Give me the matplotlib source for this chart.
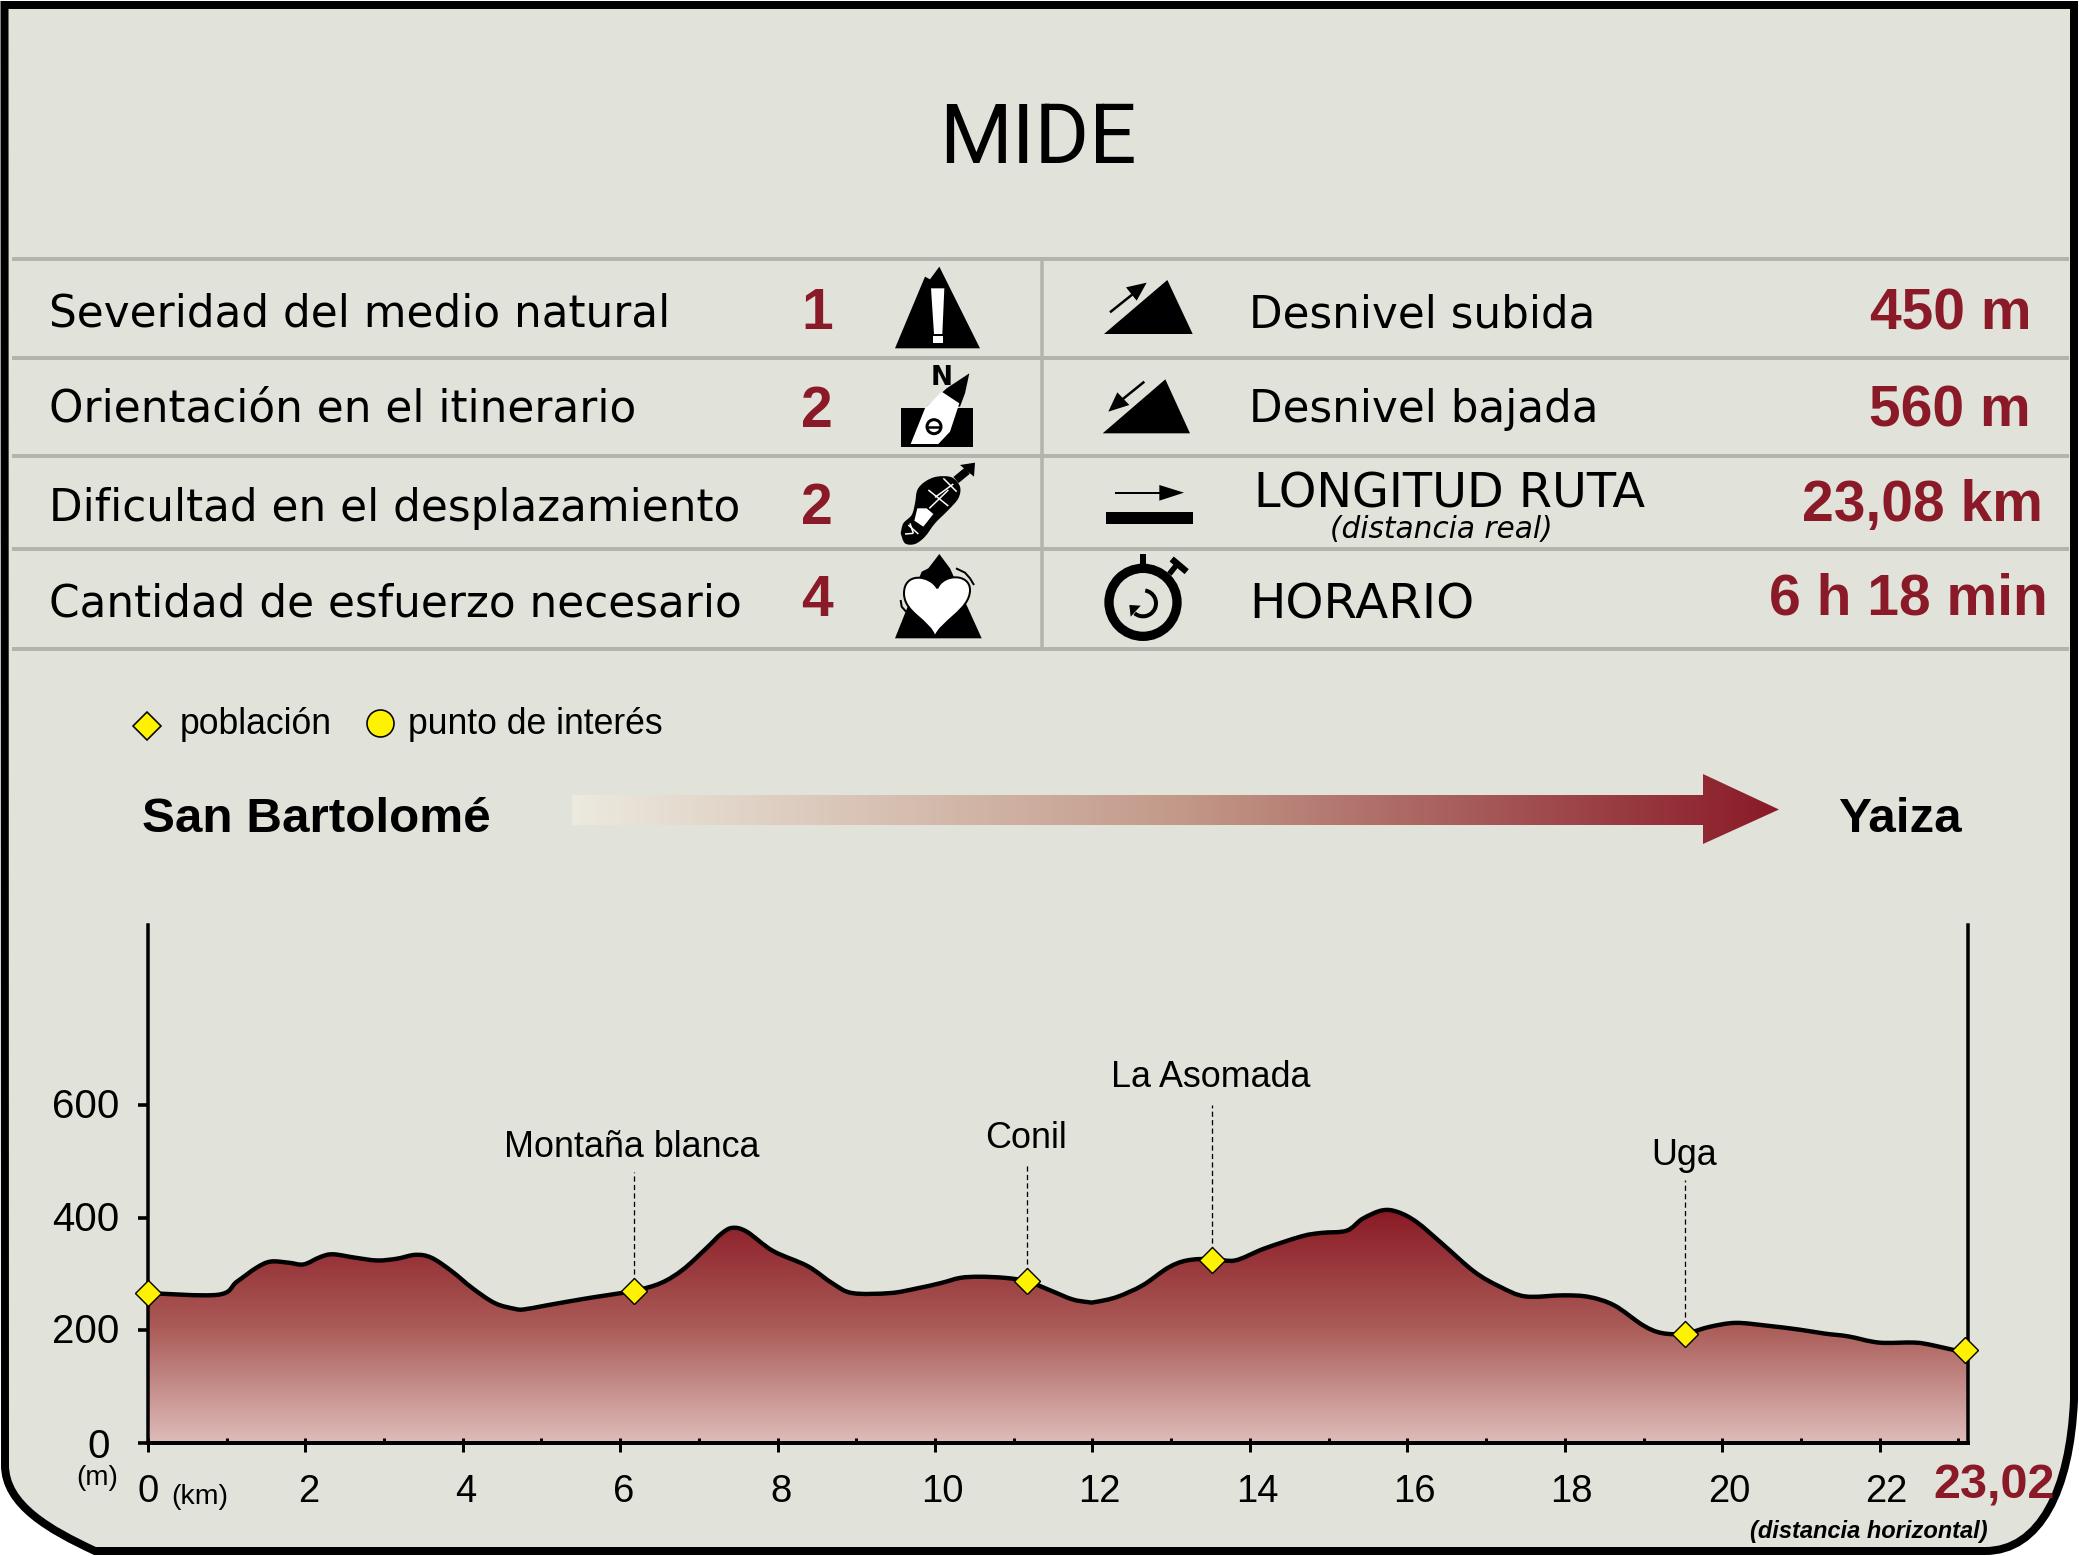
import matplotlib
matplotlib.use("Agg")
import matplotlib.pyplot as plt
import numpy as np
from matplotlib.colors import LinearSegmentedColormap
from matplotlib.patches import Arc, Circle, PathPatch, Polygon
from matplotlib.path import Path
from matplotlib.transforms import ScaledTranslation

W, H = 2079, 1556
DPI = 100
BG = "#e1e3da"
RULE = "#b3b5ad"
RED = "#8a1a28"
YELLOW = "#fff200"
SANS = "Liberation Sans"

severity_labels = [
    "Severidad del medio natural",
    "Orientación en el itinerario",
    "Dificultad en el desplazamiento",
    "Cantidad de esfuerzo necesario",
]
severity_scores = ["1", "2", "2", "4"]
route_labels = ["Desnivel subida", "Desnivel bajada", "LONGITUD RUTA", "HORARIO"]
route_values = ["450 m", "560 m", "23,08 km", "6 h 18 min"]

profile_km = [
    0, 0.89, 1.13, 1.38, 1.56, 1.79, 1.98, 2.19, 2.35, 2.63, 2.91, 3.16, 3.40, 3.60, 3.85,
    4.13, 4.41, 4.66, 4.78, 5.06, 5.55, 6.17, 6.52, 6.80, 7.09, 7.29, 7.43, 7.61, 7.94, 8.38,
    8.70, 8.95, 9.43, 9.76, 10.08, 10.32, 10.57, 10.89, 11.17, 11.46, 11.74, 11.94, 12.03,
    12.31, 12.64, 12.96, 13.20, 13.52, 13.81, 14.18, 14.66, 14.91, 15.23, 15.43, 15.68, 15.88,
    16.12, 16.44, 16.85, 17.18, 17.50, 17.98, 18.31, 18.63, 18.99, 19.23, 19.53, 19.84, 20.17,
    20.57, 20.98, 21.30, 21.60, 21.99, 22.44, 22.68, 23.08,
]
profile_elev = [
    266, 263, 286, 311, 322, 320, 317, 330, 335, 329, 324, 327, 334, 329, 306,
    274, 248, 238, 237, 244, 256, 270, 284, 308, 345, 372, 382, 375, 341, 314,
    283, 266, 266, 274, 284, 293, 295, 293, 287, 271, 255, 250, 250,
    259, 280, 311, 324, 327, 324, 345, 367, 373, 377, 398, 413, 410,
    392, 354, 304, 277, 260, 262, 259, 244, 209, 195, 194, 206, 213,
    208, 201, 194, 189, 178, 178, 173, 160,
]

town_km = [0, 6.17, 11.17, 13.52, 19.53, 23.08]
town_elev = [266, 270, 287, 325, 194, 164]
poi_names = ["Montaña blanca", "Conil", "La Asomada", "Uga"]
poi_km = [6.17, 11.17, 13.52, 19.53]
poi_elev = [270, 287, 325, 194]
poi_leader_top = [481, 495, 600, 467]
poi_label_elev = [508, 524, 632, 493]

x_major = list(range(0, 23, 2))
x_minor = list(range(0, 24))
y_major = [0, 200, 400, 600]


def px(size):
    return size * 72 / DPI


def icon(points, x0, y0=260):
    # icon outlines were measured on a 3x crop
    return [(x0 + x / 3, y0 + y / 3) for x, y in points]


def fill(ax, points, color="black", x0=880):
    ax.add_patch(Polygon(icon(points, x0), closed=True, facecolor=color, edgecolor="none"))


def stroke(ax, points, width, color="black", x0=880):
    xy = np.array(icon(points, x0))
    ax.plot(xy[:, 0], xy[:, 1], color=color, lw=px(width), solid_capstyle="butt")


def rounded(points):
    # catmull-rom through the points, as bezier segments
    pts = np.asarray(points, dtype=float)
    padded = np.vstack([pts[0], pts, pts[-1]])
    verts = [tuple(pts[0])]
    codes = [Path.MOVETO]
    for i in range(1, len(padded) - 2):
        p0, p1, p2, p3 = padded[i - 1], padded[i], padded[i + 1], padded[i + 2]
        verts += [tuple(p1 + (p2 - p0) / 6), tuple(p2 - (p3 - p1) / 6), tuple(p2)]
        codes += [Path.CURVE4] * 3
    return verts, codes


def draw_panel(ax):
    verts = [(4.5, 5), (2074, 5), (2074, 1400), (2070, 1490), (2040, 1551), (1985, 1551),
             (95, 1551), (50, 1530), (5, 1505), (5, 1465), (4.5, 5), (4.5, 5)]
    codes = [Path.MOVETO, Path.LINETO, Path.LINETO, Path.CURVE4, Path.CURVE4, Path.CURVE4,
             Path.LINETO, Path.CURVE4, Path.CURVE4, Path.CURVE4, Path.LINETO, Path.CLOSEPOLY]
    ax.add_patch(PathPatch(Path(verts, codes), facecolor=BG, edgecolor="black", lw=px(8)))


def draw_table(ax):
    for y in [258.7, 358, 456, 549, 648.7]:
        ax.plot([12, 2069], [y, y], color=RULE, lw=px(4), solid_capstyle="butt")
    ax.plot([1041.5, 1041.5], [259, 649], color=RULE, lw=px(3.5), solid_capstyle="butt")

    label_y = [326, 421.7, 521, 616]
    score_y = [329, 426.5, 524, 616]
    for label, score, y, sy in zip(severity_labels, severity_scores, label_y, score_y):
        ax.text(49, y, label, fontsize=31.5, color="black", va="baseline", ha="left")
        ax.text(817, sy, score, fontsize=41, color=RED, family=SANS, weight="bold",
                va="baseline", ha="center")

    route_x = [1249, 1249, 1254, 1249]
    route_y = [327.7, 421.7, 507.5, 618]
    route_size = [31.4, 31.4, 34.4, 34.8]
    for label, x, y, size in zip(route_labels, route_x, route_y, route_size):
        ax.text(x, y, label, fontsize=size, color="black", va="baseline", ha="left")
    ax.text(1441, 537.5, "(distancia real)", fontsize=21.3, style="italic", va="baseline", ha="center")

    value_right = [2032, 2031, 2043, 2048]
    value_y = [329, 426.5, 520.7, 614]
    for value, x, y in zip(route_values, value_right, value_y):
        ax.text(x, y, value, fontsize=41, color=RED, family=SANS, weight="bold",
                va="baseline", ha="right")


def draw_left_icons(ax):
    # warning
    fill(ax, [(45, 265), (135, 50), (150, 58), (178, 20), (300, 265)])
    fill(ax, [(153, 85), (193, 85), (187, 222), (162, 222)], "white")
    fill(ax, [(160, 228), (190, 228), (190, 248), (160, 248)], "white")
    # compass
    fill(ax, [(62, 445), (278, 445), (278, 562), (62, 562)])
    fill(ax, [(140, 440), (200, 385), (268, 340), (255, 400), (240, 440)])
    fill(ax, [(92, 552), (135, 445), (185, 395), (238, 430), (210, 515), (175, 552)], "white")
    ax.add_patch(Circle((880 + 162 / 3, 260 + 500 / 3), 7, facecolor="white", edgecolor="black", lw=px(3)))
    stroke(ax, [(142, 500), (182, 500)], 2.5)
    ax.text(942, 385, "N", fontsize=19, weight="bold", va="baseline", ha="center")
    # boot
    sole = [(62, 820), (70, 790), (95, 765), (105, 730), (112, 690), (135, 665), (170, 650), (215, 652),
            (240, 680), (235, 715), (205, 750), (165, 790), (135, 830), (105, 852), (75, 850), (62, 820)]
    verts, codes = rounded(icon(sole, 880))
    ax.add_patch(PathPatch(Path(verts, codes), facecolor="black", edgecolor="none"))
    fill(ax, [(112, 745), (140, 745), (160, 762), (130, 800), (103, 782)], "white")
    for seg in [[(145, 690), (205, 738)], [(165, 712), (220, 672)], [(190, 655), (230, 695)],
                [(148, 745), (205, 690)], [(85, 795), (115, 822)], [(75, 822), (100, 820)], [(100, 820), (90, 790)]]:
        stroke(ax, seg, 1.5, "white")
    stroke(ax, [(228, 660), (262, 632)], 8)
    fill(ax, [(240, 615), (285, 608), (282, 650)])
    # heart
    fill(ax, [(45, 1135), (125, 935), (145, 925), (178, 882), (210, 925), (305, 1135)])
    heart = [(172, 985), (150, 945), (72, 935), (72, 1000), (72, 1060), (150, 1080), (165, 1132),
             (180, 1085), (270, 1050), (270, 990), (270, 940), (190, 940), (172, 985)]
    codes = [Path.MOVETO] + [Path.CURVE4] * 12
    ax.add_patch(PathPatch(Path(icon(heart, 880), codes), facecolor="white", edgecolor="black", lw=px(2)))
    stroke(ax, [(228, 925), (255, 938), (270, 955), (282, 975)], 2)
    stroke(ax, [(62, 1020), (65, 1040), (78, 1055)], 2)


def draw_right_icons(ax):
    x0 = 1090
    fill(ax, [(42, 222), (232, 60), (308, 222)], x0=x0)
    stroke(ax, [(60, 157), (135, 97)], 2.5, x0=x0)
    fill(ax, [(170, 68), (108, 82), (140, 122)], x0=x0)
    fill(ax, [(38, 520), (226, 358), (300, 520)], x0=x0)
    stroke(ax, [(163, 365), (85, 428)], 2.5, x0=x0)
    fill(ax, [(55, 455), (82, 397), (118, 435)], x0=x0)
    stroke(ax, [(75, 698), (215, 698)], 2, x0=x0)
    fill(ax, [(208, 675), (282, 698), (208, 722)], x0=x0)
    fill(ax, [(48, 756), (308, 756), (308, 792), (48, 792)], x0=x0)
    # stopwatch
    cx, cy = x0 + 159 / 3, 260 + 1027 / 3
    ax.add_patch(Circle((cx, cy), 34, facecolor="none", edgecolor="black", lw=px(9.3)))
    fill(ax, [(150, 882), (168, 882), (168, 920), (150, 920)], x0=x0)
    stroke(ax, [(238, 942), (262, 912)], 5.5, x0=x0)
    stroke(ax, [(245, 897), (290, 935)], 6.5, x0=x0)
    ax.add_patch(Arc((cx, cy + 1), 26, 26, theta1=-80, theta2=130, color="black", lw=px(4)))
    fill(ax, [(118, 1035), (152, 1037), (122, 1070)], x0=x0)


def draw_header(ax):
    ax.text(1038, 163, "MIDE", fontsize=60, family="Roboto", va="baseline", ha="center")

    ax.plot([147], [726], marker="D", ms=px(19.5), mfc=YELLOW, mec="black", mew=px(1.6), ls="none")
    ax.plot([380], [723], marker="o", ms=px(27), mfc=YELLOW, mec="black", mew=px(1.6), ls="none")
    ax.text(180, 734, "población", fontsize=25.6, family=SANS, va="baseline", ha="left")
    ax.text(408, 734, "punto de interés", fontsize=25.6, family=SANS, va="baseline", ha="left")

    ax.text(142, 832, "San Bartolomé", fontsize=35.6, family=SANS, weight="bold", va="baseline", ha="left")
    ax.text(1838, 832, "Yaiza", fontsize=35.6, family=SANS, weight="bold", va="baseline", ha="left")

    arrow = Polygon([(572, 795), (1703, 795), (1703, 774), (1779, 809.5), (1703, 844), (1703, 825), (572, 825)],
                    closed=True, transform=ax.transData, facecolor="none", edgecolor="none")
    ax.add_patch(arrow)
    cmap = LinearSegmentedColormap.from_list("route", ["#ece9de", "#c39a8a", RED])
    image = ax.imshow(np.linspace(0, 1, 256).reshape(1, -1), cmap=cmap, aspect="auto",
                      extent=(572, 1779, 844, 774), interpolation="bilinear", zorder=2)
    image.set_clip_path(arrow)


def draw_profile(fig):
    left, right, bottom, top = 147.8, 1968, 1442.7, 925
    ax = fig.add_axes([left / W, 1 - bottom / H, (right - left) / W, (bottom - top) / H])
    ax.patch.set_visible(False)

    km_per_px = 23.02 / (1960 - 147.8)
    xmax = (right - left) * km_per_px
    ymax = (bottom - top) / 0.5625

    verts, codes = rounded(list(zip(profile_km, profile_elev)))
    ridge = Path(verts, codes)
    edge_verts = verts + [(xmax, profile_elev[-1]), (xmax, 0), (0, 0), (0, 0)]
    edge_codes = codes + [Path.LINETO, Path.LINETO, Path.LINETO, Path.CLOSEPOLY]
    outline = PathPatch(Path(edge_verts, edge_codes), transform=ax.transData, facecolor="none", edgecolor="none")
    ax.add_patch(outline)
    cmap = LinearSegmentedColormap.from_list("relief", ["#8a1a25", "#aa5b57", "#debcba"])
    image = ax.imshow(np.linspace(0, 1, 256).reshape(-1, 1), cmap=cmap, aspect="auto",
                      extent=(0, xmax, 0, max(profile_elev)), origin="upper",
                      interpolation="bilinear", zorder=1)
    image.set_clip_path(outline)
    ax.add_patch(PathPatch(ridge, facecolor="none", edgecolor="black", lw=px(4.4), joinstyle="round", zorder=3))

    label_shift = ScaledTranslation(-1.5 / DPI, 0, fig.dpi_scale_trans)
    for km, elev, name, line_top, label_elev in zip(poi_km, poi_elev, poi_names, poi_leader_top, poi_label_elev):
        ax.plot([km, km], [elev, line_top], color="black", lw=px(1.3), ls=(0, (4, 2.5)), zorder=2)
        ax.text(km, label_elev, name, fontsize=25.8, family=SANS, va="baseline", ha="center",
                transform=ax.transData + label_shift)
    ax.plot(town_km, town_elev, ls="none", marker="D", ms=px(19), mfc=YELLOW, mec="black",
            mew=px(1.4), clip_on=False, zorder=5)

    ax.set_xlim(0, xmax)
    ax.set_ylim(0, ymax)
    ax.spines["top"].set_visible(False)
    for side in ["left", "right"]:
        ax.spines[side].set_linewidth(px(3.5))
    ax.spines["bottom"].set_linewidth(px(4))

    ax.set_xticks(x_major, [str(v) for v in x_major], family=SANS)
    ax.set_xticks(x_minor, minor=True)
    ax.xaxis.remove_overlapping_locs = False
    ax.set_yticks(y_major, [str(v) for v in y_major], family=SANS)
    ax.tick_params(axis="x", which="major", direction="out", length=px(9), width=px(3), labelsize=27.5, pad=px(22))
    ax.tick_params(axis="x", which="minor", direction="in", length=px(5), width=px(3))
    ax.tick_params(axis="y", direction="out", length=px(10), width=px(3.6), labelsize=29, pad=px(18))

    for value, label in zip(x_major, ax.get_xticklabels()):
        shift = 0 if value == 0 else (3 if value < 10 else 7)
        label.set_transform(label.get_transform() + ScaledTranslation(shift / DPI, 0, fig.dpi_scale_trans))
    offsets = [(-10, 0), (0, 2), (0, 2), (0, 2)]
    for (dx, dy), label in zip(offsets, ax.get_yticklabels()):
        label.set_transform(label.get_transform() + ScaledTranslation(dx / DPI, dy / DPI, fig.dpi_scale_trans))


def draw_notes(ax):
    ax.text(97, 1485, "(m)", fontsize=20, family=SANS, va="baseline", ha="center")
    ax.text(171, 1504, "(km)", fontsize=20.5, family=SANS, va="baseline", ha="left")
    ax.text(1994, 1498, "23,02", fontsize=35, color=RED, family=SANS, weight="bold", va="baseline", ha="center")
    ax.text(1869, 1538, "(distancia horizontal)", fontsize=17, family=SANS, weight="bold",
            style="italic", va="baseline", ha="center")


fig = plt.figure(figsize=(W / DPI, H / DPI), dpi=DPI, facecolor="white")
canvas = fig.add_axes([0, 0, 1, 1])
draw_panel(canvas)
draw_table(canvas)
draw_left_icons(canvas)
draw_right_icons(canvas)
draw_header(canvas)
draw_notes(canvas)
canvas.set_xlim(0, W)
canvas.set_ylim(H, 0)
canvas.axis("off")
draw_profile(fig)
fig.savefig("out.png", dpi=DPI)
